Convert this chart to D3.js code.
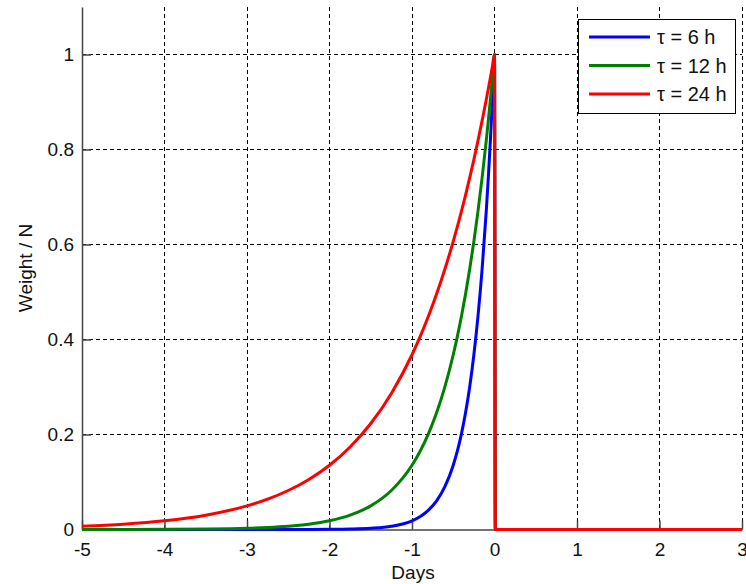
<!DOCTYPE html>
<meta charset="utf-8">
<head>
  <title>Weight</title>
  <script src="https://d3js.org/d3.v7.min.js"></script>
</head>
<body style="margin:0;background:#fff">
<div id="chart"></div>
<script>
  // values
  var days   = [-5, -4.5, -4, -3.5, -3, -2.75, -2.5, -2.25, -2, -1.75, -1.5, -1.25, -1, -0.9, -0.8, -0.7, -0.6, -0.5, -0.45, -0.4, -0.35, -0.3, -0.25, -0.2, -0.15, -0.1, -0.075, -0.05, -0.025, 0, 0.01, 3]
  var tau6   = [0, 0, 0, 0, 0, 0, 0.00005, 0.0001, 0.0003, 0.0009, 0.0025, 0.0067, 0.0183, 0.0273, 0.0408, 0.0608, 0.0907, 0.1353, 0.1653, 0.2019, 0.2466, 0.3012, 0.3679, 0.4493, 0.5488, 0.6703, 0.7408, 0.8187, 0.9048, 1, 0, 0]
  var tau12  = [0.00005, 0.0001, 0.0003, 0.0009, 0.0025, 0.0041, 0.0067, 0.0111, 0.0183, 0.0302, 0.0498, 0.0821, 0.1353, 0.1653, 0.2019, 0.2466, 0.3012, 0.3679, 0.4066, 0.4493, 0.4966, 0.5488, 0.6065, 0.6703, 0.7408, 0.8187, 0.8607, 0.9048, 0.9512, 1, 0, 0]
  var tau24  = [0.0067, 0.0111, 0.0183, 0.0302, 0.0498, 0.0639, 0.0821, 0.1054, 0.1353, 0.1738, 0.2231, 0.2865, 0.3679, 0.4066, 0.4493, 0.4966, 0.5488, 0.6065, 0.6376, 0.6703, 0.7047, 0.7408, 0.7788, 0.8187, 0.8607, 0.9048, 0.9277, 0.9512, 0.9753, 1, 0, 0]
  var seriesNames = ["τ = 6 h", "τ = 12 h", "τ = 24 h"]
  var seriesColors = ["#0000ff", "#008000", "#ff0000"]
  var xTicks = [-5, -4, -3, -2, -1, 0, 1, 2, 3]
  var yTicks = [0, 0.2, 0.4, 0.6, 0.8, 1]

  var W = 746, H = 584
  var margin = {top: 7, right: 4, bottom: 54.5, left: 82}
  var width = W - margin.left - margin.right,
      height = H - margin.top - margin.bottom
  var fontSize = "19px"

  var svg = d3.select("#chart").append("svg")
      .attr("width", W).attr("height", H)
      .style("font-family", "'Liberation Sans', Arial, sans-serif")

  var g = svg.append("g")
      .attr("transform", "translate(" + margin.left + "," + margin.top + ")")

  var x = d3.scaleLinear().domain([-5, 3]).range([0, width])
  var y = d3.scaleLinear().domain([0, 1.1]).range([height, 0])

  // grid
  g.append("g").selectAll("line.vg")
    .data(xTicks.filter(d => d != -5))
    .join("line")
      .attr("x1", d => x(d)).attr("x2", d => x(d))
      .attr("y1", 0).attr("y2", height)
      .attr("stroke", "#000").attr("stroke-width", 1)
      .attr("stroke-dasharray", "4,3")
      .attr("shape-rendering", "crispEdges")

  g.append("g").selectAll("line.hg")
    .data(yTicks.filter(d => d != 0))
    .join("line")
      .attr("x1", 0).attr("x2", width)
      .attr("y1", d => y(d)).attr("y2", d => y(d))
      .attr("stroke", "#000").attr("stroke-width", 1)
      .attr("stroke-dasharray", "4,3")
      .attr("shape-rendering", "crispEdges")

  // axes
  var xAxis = g.append("g")
      .attr("transform", "translate(0," + height + ")")
      .call(d3.axisBottom(x).tickValues(xTicks).tickSizeInner(-9).tickSizeOuter(0).tickPadding(13).tickFormat(d3.format("d")))
  var yAxis = g.append("g")
      .call(d3.axisLeft(y).tickValues(yTicks).tickSizeInner(-9).tickSizeOuter(0).tickPadding(8).tickFormat(d => d == 0 || d == 1 ? d : d3.format(".1f")(d)))

  ;[xAxis, yAxis].forEach(a => {
    a.select(".domain").attr("stroke", "#444").attr("stroke-width", 1.5)
    a.selectAll(".tick line").attr("stroke", "#444").attr("stroke-width", 1.5)
    a.selectAll("text").attr("fill", "#111").style("font-size", fontSize).style("font-family", "'Liberation Sans', Arial, sans-serif")
  })
  xAxis.selectAll("text").text(d => d < 0 ? "-" + Math.abs(d) : d)

  svg.append("text")
    .attr("x", margin.left + width / 2 + 1)
    .attr("y", 579)
    .attr("text-anchor", "middle")
    .style("font-size", fontSize)
    .attr("fill", "#111")
    .text("Days")

  svg.append("text")
    .attr("transform", "translate(32,268) rotate(-90)")
    .attr("text-anchor", "middle")
    .style("font-size", fontSize)
    .attr("fill", "#111")
    .text("Weight / N")

  // curves
  var series = [tau6, tau12, tau24]
  var line = d3.line()
    .x((d, i) => x(days[i]))
    .y(d => y(d))
    .curve(d3.curveMonotoneX)

  g.append("g").selectAll("path.curve")
    .data(series)
    .join("path")
      .attr("class", "curve")
      .attr("d", line)
      .attr("fill", "none")
      .attr("stroke", (d, i) => seriesColors[i])
      .attr("stroke-width", 3)
      .attr("stroke-linejoin", "round")

  // legend
  var lg = svg.append("g").attr("transform", "translate(578,19)")
  lg.append("rect")
    .attr("x", 0.5).attr("y", 0.5)
    .attr("width", 157).attr("height", 94)
    .attr("fill", "#fff").attr("stroke", "#000").attr("stroke-width", 1)

  var items = lg.selectAll("g.item")
    .data(seriesNames)
    .join("g")
      .attr("transform", (d, i) => "translate(0," + (18 + i * 28.5) + ")")
  items.append("line")
    .attr("x1", 11).attr("x2", 72)
    .attr("stroke", (d, i) => seriesColors[i])
    .attr("stroke-width", 3)
  items.append("text")
    .attr("x", 79).attr("y", 7)
    .style("font-size", "20px")
    .attr("fill", "#111")
    .text(d => d)
</script>
</body>
